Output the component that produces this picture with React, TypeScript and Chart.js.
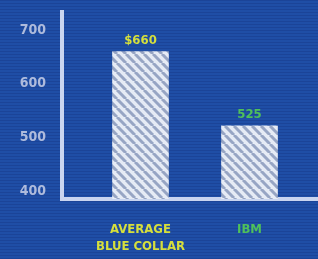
import React, { useEffect, useRef } from "react";
import { Chart, registerables } from "chart.js";

Chart.register(...registerables);

const categories: string[][] = [["AVERAGE", "BLUE COLLAR"], ["IBM"]];
const values: number[] = [660, 522];
const valueLabels: string[] = ["$660", "525"];
const yTicks: number[] = [400, 500, 600, 700];
const labelColors: string[] = ["#d6df3c", "#4fc05a"];

const FONT = "'Liberation Sans Narrow', 'DejaVu Sans Condensed', 'Liberation Sans', sans-serif";

function makePattern(): CanvasPattern | string {
  const c = document.createElement("canvas");
  c.width = 9;
  c.height = 9;
  const g = c.getContext("2d");
  if (!g) return "#dde4f0";
  g.fillStyle = "#e6ebf5";
  g.fillRect(0, 0, 9, 9);
  g.strokeStyle = "#97a5c4";
  g.lineWidth = 3;
  for (let k = -9; k <= 18; k += 9) {
    g.beginPath();
    g.moveTo(k, 0);
    g.lineTo(k + 9, 9);
    g.stroke();
  }
  const p = g.createPattern(c, "repeat");
  return p || "#dde4f0";
}

const bgPlugin = {
  id: "bg",
  beforeDraw(chart: any) {
    const ctx = chart.ctx;
    const w = chart.width, h = chart.height;
    ctx.save();
    ctx.fillStyle = "#1f4ea6";
    ctx.fillRect(0, 0, w, h);
    ctx.fillStyle = "rgba(10,30,90,0.18)";
    for (let y = 0; y < h; y += 3) ctx.fillRect(0, y, w, 1);
    ctx.strokeStyle = "#c9d5f0";
    ctx.lineWidth = 4;
    ctx.beginPath();
    ctx.moveTo(62, 10);
    ctx.lineTo(62, 199);
    ctx.lineTo(w, 199);
    ctx.stroke();
    ctx.restore();
  },
  afterDatasetsDraw(chart: any) {
    const ctx = chart.ctx;
    const meta = chart.getDatasetMeta(0);
    ctx.save();
    ctx.font = `bold 13px ${FONT}`;
    ctx.textAlign = "center";
    ctx.textBaseline = "bottom";
    meta.data.forEach((bar: any, i: number) => {
      ctx.fillStyle = labelColors[i];
      ctx.fillText(valueLabels[i], bar.x, bar.y - 4);
    });
    ctx.restore();
  },
};

export default function App() {
  const ref = useRef<HTMLCanvasElement>(null);
  useEffect(() => {
    if (!ref.current) return;
    const pattern = makePattern();
    const chart = new Chart(ref.current, {
      type: "bar",
      data: {
        labels: categories,
        datasets: [
          {
            data: values,
            backgroundColor: pattern as any,
            borderWidth: 0,
            barPercentage: 0.52,
            categoryPercentage: 1,
          },
        ],
      },
      options: {
        animation: false,
        responsive: false,
        maintainAspectRatio: false,
        layout: { padding: { top: 10, right: 14, left: 0, bottom: 0 } },
        plugins: { legend: { display: false }, tooltip: { enabled: false } },
        scales: {
          x: {
            grid: { display: false, drawTicks: false },
            border: { display: false },
            afterFit(scale: any) {
              scale.height = 60;
            },
            ticks: {
              padding: 22,
              color: (c: any) => labelColors[c.index] || "#d6df3c",
              font: { family: FONT, size: 13, weight: "bold", lineHeight: 1.3 },
              maxRotation: 0,
            },
          },
          y: {
            min: 385,
            max: 737,
            grid: { display: false, drawTicks: false },
            border: { display: false },
            afterFit(scale: any) {
              scale.width = 86;
              scale.paddingTop = 0;
              scale.paddingBottom = 0;
            },
            afterBuildTicks(scale: any) {
              scale.ticks = yTicks.map((v) => ({ value: v }));
            },
            ticks: {
              padding: 40,
              color: "#aebbdc",
              font: { family: FONT, size: 14, weight: "bold" },
            },
          },
        },
      },
      plugins: [bgPlugin],
    });
    return () => chart.destroy();
  }, []);
  return (
    <div style={{ position: "fixed", left: 0, top: 0, width: 318, height: 259 }}>
      <canvas ref={ref} width={318} height={259} style={{ width: 318, height: 259, display: "block" }} />
    </div>
  );
}
